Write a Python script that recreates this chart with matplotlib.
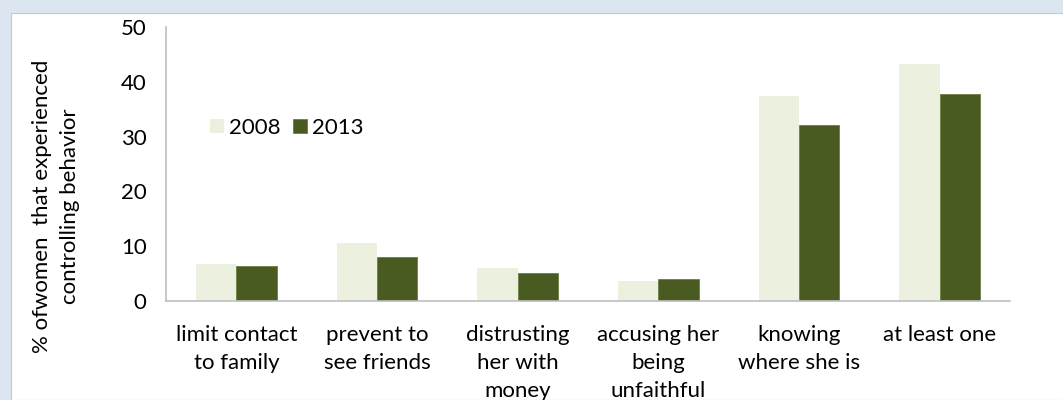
import matplotlib.pyplot as plt
import matplotlib.patches as mpatches
import numpy as np

categories = ["limit contact\nto family", "prevent to\nsee friends", "distrusting\nher with\nmoney",
              "accusing her\nbeing\nunfaithful", "knowing\nwhere she is", "at least one"]
v2008 = [6.8, 10.5, 6.0, 3.7, 37.4, 43.2]
v2013 = [6.3, 8.1, 5.2, 4.0, 32.2, 37.8]

plt.rcParams['font.family'] = ['Lato', 'DejaVu Sans']
fs = 16

fig = plt.figure(figsize=(10.63, 4.0), dpi=100)
fig.patch.set_facecolor('#dce6f1')
# white chart panel
fig.patches.append(mpatches.Rectangle((11/1063, 0), 1.0, 1 - 13/400, transform=fig.transFigure,
                                      facecolor='white', edgecolor='#c8c8c8', lw=0.8, zorder=-5))

ax = fig.add_axes([166/1063, 1 - 301/400, 844/1063, 274/400])
ax.set_facecolor('none')
ax.set_zorder(2)

x = np.arange(len(categories))
w = 0.286
ax.bar(x - w/2, v2008, w, color='#ebf1de', label='2008')
ax.bar(x + w/2, v2013, w, color='#4a5b22', edgecolor='#6b7d45', lw=0.6, label='2013')

ax.set_xlim(-0.5, len(categories) - 0.5)
ax.set_ylim(0, 50)
ax.set_yticks([0, 10, 20, 30, 40, 50])
ax.set_xticks(x)
ax.set_xticklabels(categories, fontsize=fs, linespacing=1.5, va='top')
ax.tick_params(axis='y', length=0, pad=14, labelsize=fs)
ax.tick_params(axis='x', length=0, pad=17)

for s in ['top', 'right']:
    ax.spines[s].set_visible(False)
for s in ['left', 'bottom']:
    ax.spines[s].set_color('#bfbfbf')
    ax.spines[s].set_linewidth(1.2)

fig.text(56/1063, 1 - 206/400, "% ofwomen  that experienced\ncontrolling behavior", fontsize=fs,
         rotation=90, ha='center', va='center', ma='center', linespacing=1.5)

ax.legend(loc='center', bbox_to_anchor=(287/1063, 1 - 128/400), bbox_transform=fig.transFigure,
          ncol=2, frameon=False, fontsize=fs, handlelength=0.6, handleheight=0.6,
          handletextpad=0.25, columnspacing=0.55)

plt.savefig("out.png", dpi=100, facecolor=fig.get_facecolor())
